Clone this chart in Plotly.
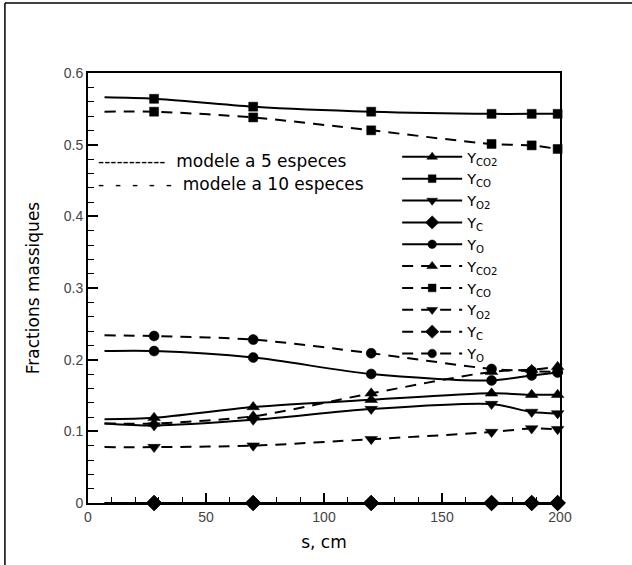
import plotly.graph_objects as go

s = [7, 28, 70, 120, 171, 188, 199]

# modele a 5 especes (solid)
y5_co2 = [0.117, 0.119, 0.134, 0.144, 0.153, 0.151, 0.151]
y5_co = [0.566, 0.564, 0.553, 0.546, 0.543, 0.543, 0.543]
y5_o2 = [0.111, 0.108, 0.116, 0.131, 0.138, 0.127, 0.125]
y5_c = [0, 0, 0, 0, 0, 0, 0]
y5_o = [0.212, 0.212, 0.203, 0.180, 0.171, 0.178, 0.182]

# modele a 10 especes (dashed)
y10_co2 = [0.111, 0.111, 0.121, 0.153, 0.183, 0.186, 0.190]
y10_co = [0.546, 0.546, 0.538, 0.520, 0.501, 0.499, 0.494]
y10_o2 = [0.078, 0.078, 0.080, 0.089, 0.099, 0.104, 0.103]
y10_c = [0, 0, 0, 0, 0, 0, 0]
y10_o = [0.234, 0.233, 0.228, 0.209, 0.187, 0.184, 0.183]

names = ["Y<sub>CO2</sub>", "Y<sub>CO</sub>", "Y<sub>O2</sub>", "Y<sub>C</sub>", "Y<sub>O</sub>"]
symbols = ["triangle-up", "square", "triangle-down", "diamond", "circle"]
msizes = [11, 9, 11, 12, 10]

x_ticks = [0, 50, 100, 150, 200]
y_ticks = [0, 0.1, 0.2, 0.3, 0.4, 0.5, 0.6]

fig = go.Figure()
series = [
    (y5_co2, y5_co, y5_o2, y5_c, y5_o),
    (y10_co2, y10_co, y10_o2, y10_c, y10_o),
]
dashes = ["solid", "11px,8px"]
for grp, dash in zip(series, dashes):
    for ys, nm, sym, ms in zip(grp, names, symbols, msizes):
        fig.add_trace(go.Scatter(
            x=s, y=ys, name=nm, mode="lines+markers",
            line=dict(color="black", width=2, dash=dash, shape="spline", smoothing=0.8),
            marker=dict(symbol=sym, color="black", opacity=1,
                        size=[0] + [ms] * (len(s) - 1),
                        line=dict(color="black", width=0.5)),
            cliponaxis=False,
        ))

fig.update_layout(
    width=632, height=565,
    margin=dict(l=88, r=72, t=73, b=62),
    paper_bgcolor="white", plot_bgcolor="white",
    font=dict(family="Liberation Sans, Arial", color="black"),
    showlegend=True,
    legend=dict(x=0.655, y=0.842, xanchor="left", yanchor="top",
                bgcolor="rgba(0,0,0,0)", font=dict(size=14.5, family="DejaVu Sans"),
                itemwidth=60, tracegroupgap=0),
)
fig.update_xaxes(
    range=[0, 200], tickvals=x_ticks, ticks="inside", ticklen=10, tickwidth=1.5,
    tickcolor="black", showline=True, linecolor="black", linewidth=2, mirror=True,
    showgrid=False, zeroline=False,
    minor=dict(dtick=10, ticks="inside", ticklen=6, tickwidth=1.2, tickcolor="black"),
    tickfont=dict(size=14, color="#444"),
    title=dict(text="s, cm", font=dict(size=17, family="DejaVu Sans"), standoff=12),
)
fig.update_yaxes(
    range=[0, 0.6], tickvals=y_ticks, ticks="inside", ticklen=10, tickwidth=1.5,
    tickcolor="black", showline=True, linecolor="black", linewidth=2, mirror=True,
    showgrid=False, zeroline=False,
    minor=dict(dtick=0.02, ticks="inside", ticklen=6, tickwidth=1.2, tickcolor="black"),
    tickfont=dict(size=14, color="#444"),
    title=dict(text="Fractions massiques", font=dict(size=17, family="DejaVu Sans"), standoff=20),
)

fig.add_annotation(xref="paper", yref="paper", x=0.017, y=0.795, xanchor="left", yanchor="middle",
                   text="-----------  modele a 5 especes", showarrow=False,
                   font=dict(size=17, family="DejaVu Sans"))
fig.add_annotation(xref="paper", yref="paper", x=0.017, y=0.742, xanchor="left", yanchor="middle",
                   text="-  -  -  -  -  modele a 10 especes", showarrow=False,
                   font=dict(size=17, family="DejaVu Sans"))

# outer frame (top and left edges)
fig.add_shape(type="line", xref="paper", yref="paper", x0=-0.176, x1=1.2, y0=1.163, y1=1.163,
              line=dict(color="black", width=1.5))
fig.add_shape(type="line", xref="paper", yref="paper", x0=-0.176, x1=-0.176, y0=-0.2, y1=1.163,
              line=dict(color="black", width=1.5))

fig.write_html("out.html", config={"displayModeBar": False},
               post_script="document.body.style.margin='0';")
